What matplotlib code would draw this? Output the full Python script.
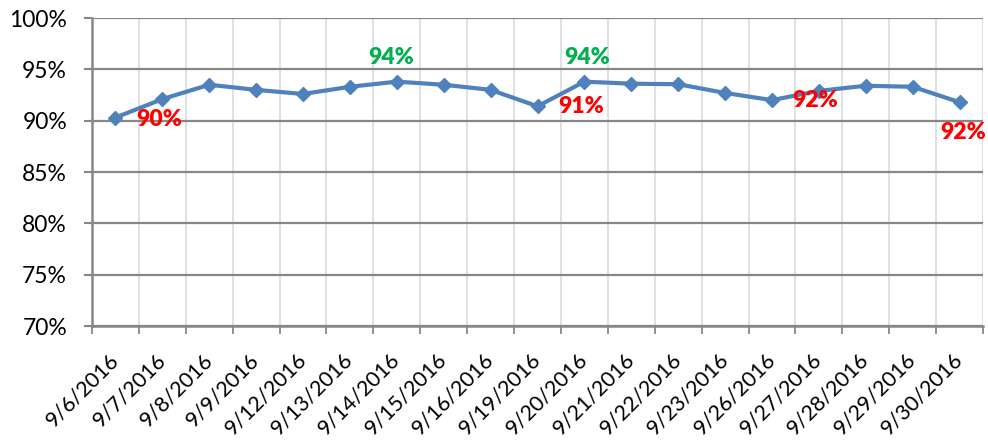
import matplotlib
matplotlib.use('Agg')
import matplotlib.pyplot as plt
from matplotlib.ticker import FixedLocator, PercentFormatter

# data
dates = ['9/6/2016', '9/7/2016', '9/8/2016', '9/9/2016', '9/12/2016', '9/13/2016',
         '9/14/2016', '9/15/2016', '9/16/2016', '9/19/2016', '9/20/2016', '9/21/2016',
         '9/22/2016', '9/23/2016', '9/26/2016', '9/27/2016', '9/28/2016', '9/29/2016',
         '9/30/2016']
rate = [90.3, 92.1, 93.5, 93.0, 92.6, 93.3, 93.8, 93.5, 93.0, 91.4,
        93.8, 93.6, 93.55, 92.7, 92.0, 92.9, 93.4, 93.3, 91.8]

# callout labels: (x index, y value, text, colour)
note_x = [0.94, 5.88, 10.06, 9.93, 14.93, 18.08]
note_y = [90.1, 96.2, 96.2, 91.4, 92.0, 88.8]
note_txt = ['90%', '94%', '94%', '91%', '92%', '92%']
note_col = ['#ff0000', '#00b050', '#00b050', '#ff0000', '#ff0000', '#ff0000']

plt.rcParams['font.family'] = ['Lato', 'DejaVu Sans']

fig = plt.figure(figsize=(9.88, 4.45), dpi=100)
ax = fig.add_axes([92/988, 1 - 326/445, 891/988, 308/445])

x = list(range(len(dates)))
ax.plot(x, rate, color='#4f81bd', lw=3, marker='D', ms=7, zorder=3)

for xi, yi, t, c in zip(note_x, note_y, note_txt, note_col):
    ax.text(xi, yi, t, color=c, fontsize=16.5, fontweight='heavy',
            ha='center', va='center', zorder=4)

ax.set_xlim(-0.5, len(dates) - 0.5)
ax.set_ylim(70, 100)
ax.yaxis.set_major_locator(FixedLocator([70, 75, 80, 85, 90, 95, 100]))
ax.yaxis.set_major_formatter(PercentFormatter(decimals=0))

ax.set_xticks(x)
ax.set_xticklabels(dates, rotation=45, ha='right', va='center', rotation_mode='anchor')
ax.set_xticks([i - 0.5 for i in range(len(dates) + 1)], minor=True)
ax.tick_params(axis='x', which='major', length=0, pad=22, labelsize=15.5)
ax.tick_params(axis='x', which='minor', length=6, width=1.3, color='#878787')
ax.tick_params(axis='y', length=6, width=1.5, color='#878787', pad=12, labelsize=16.5)

ax.grid(True, axis='y', color='#878787', lw=1.6, zorder=1)
ax.grid(True, axis='x', which='minor', color='#d9d9d9', lw=1.1, zorder=0)

for s in ['top', 'right']:
    ax.spines[s].set_visible(False)
for s in ['left', 'bottom']:
    ax.spines[s].set_color('#878787')
    ax.spines[s].set_linewidth(1.8)

fig.savefig('out.png', dpi=100)
